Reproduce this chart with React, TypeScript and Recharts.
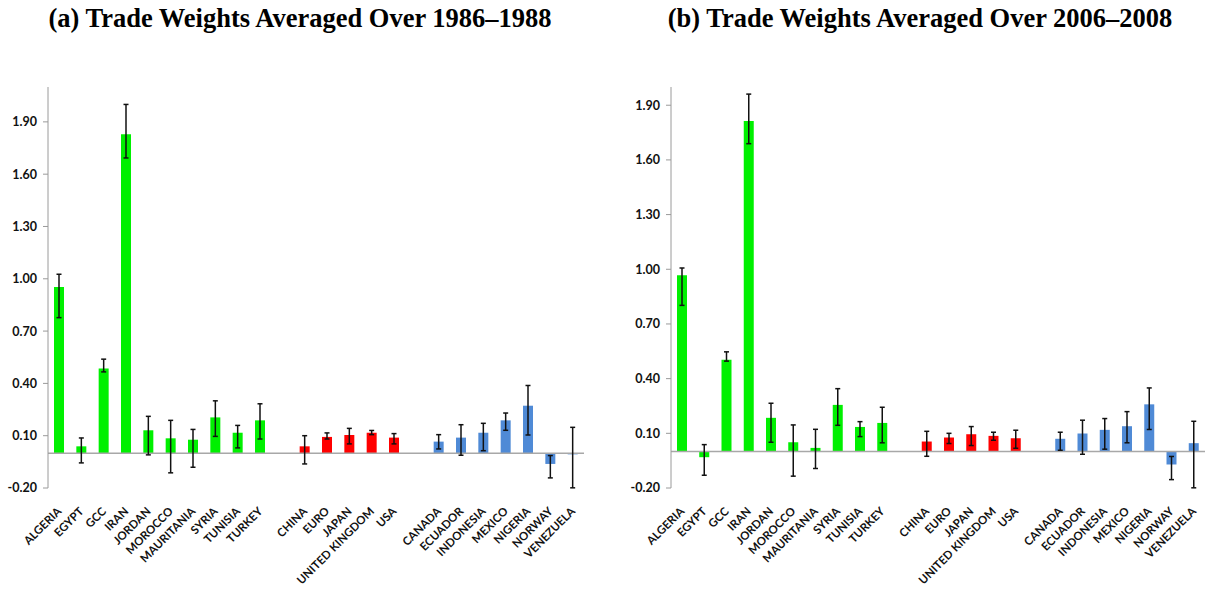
import React from "react";
import { BarChart, Bar, XAxis, YAxis, ErrorBar, Cell, ReferenceLine } from "recharts";

const menaCountries = ["ALGERIA", "EGYPT", "GCC", "IRAN", "JORDAN", "MOROCCO", "MAURITANIA", "SYRIA", "TUNISIA", "TURKEY"];
const majorPartners = ["CHINA", "EURO", "JAPAN", "UNITED KINGDOM", "USA"];
const oilExporters = ["CANADA", "ECUADOR", "INDONESIA", "MEXICO", "NIGERIA", "NORWAY", "VENEZUELA"];

const yTicks = [-0.2, 0.1, 0.4, 0.7, 1.0, 1.3, 1.6, 1.9];

// Panel (a) 1986–1988: mena, partners, oil exporters
const aMenaMean = [0.953, 0.039, 0.485, 1.829, 0.131, 0.085, 0.077, 0.205, 0.117, 0.188];
const aMenaLow = [0.777, -0.056, 0.466, 1.693, -0.01, -0.113, -0.081, 0.096, 0.03, 0.081];
const aMenaHigh = [1.026, 0.087, 0.539, 2.0, 0.211, 0.188, 0.136, 0.3, 0.159, 0.283];
const aPartMean = [0.039, 0.093, 0.104, 0.117, 0.089];
const aPartLow = [-0.062, 0.081, 0.053, 0.106, 0.053];
const aPartHigh = [0.1, 0.116, 0.142, 0.13, 0.112];
const aOilMean = [0.066, 0.089, 0.117, 0.188, 0.272, -0.062, -0.007];
const aOilLow = [0.024, -0.012, 0.014, 0.131, 0.104, -0.142, -0.199];
const aOilHigh = [0.106, 0.163, 0.171, 0.23, 0.388, -0.014, 0.148];

// Panel (b) 2006–2008
const bMenaMean = [0.967, -0.031, 0.504, 1.813, 0.185, 0.051, 0.02, 0.256, 0.135, 0.157];
const bMenaLow = [0.802, -0.13, 0.496, 1.689, 0.051, -0.135, -0.093, 0.144, 0.082, 0.048];
const bMenaHigh = [1.007, 0.038, 0.547, 1.961, 0.265, 0.146, 0.122, 0.345, 0.164, 0.243];
const bPartMean = [0.055, 0.077, 0.095, 0.086, 0.073];
const bPartLow = [-0.026, 0.044, 0.033, 0.062, 0.018];
const bPartHigh = [0.111, 0.1, 0.137, 0.106, 0.117];
const bOilMean = [0.07, 0.099, 0.119, 0.139, 0.259, -0.071, 0.046];
const bOilLow = [0.007, -0.015, 0.013, 0.048, 0.121, -0.154, -0.199];
const bOilHigh = [0.106, 0.172, 0.181, 0.219, 0.349, -0.027, 0.166];

const GREEN = "#00f000";
const RED = "#ff0000";
const BLUE = "#4f8ad6";

const LABEL_FONT = "Lato, 'Open Sans', sans-serif";

type Row = { name: string; value: number | null; err?: [number, number]; color: string };

function buildGroup(names: string[], mean: number[], low: number[], high: number[], color: string): Row[] {
  return names.map((n, i) => ({
    name: n,
    value: mean[i],
    err: [mean[i] - low[i], high[i] - mean[i]] as [number, number],
    color,
  }));
}

function buildData(
  mm: number[], ml: number[], mh: number[],
  pm: number[], pl: number[], ph: number[],
  om: number[], ol: number[], oh: number[]
): Row[] {
  return [
    ...buildGroup(menaCountries, mm, ml, mh, GREEN),
    { name: " ", value: null, color: GREEN },
    ...buildGroup(majorPartners, pm, pl, ph, RED),
    { name: "  ", value: null, color: RED },
    ...buildGroup(oilExporters, om, ol, oh, BLUE),
  ];
}

const dataA = buildData(aMenaMean, aMenaLow, aMenaHigh, aPartMean, aPartLow, aPartHigh, aOilMean, aOilLow, aOilHigh);
const dataB = buildData(bMenaMean, bMenaLow, bMenaHigh, bPartMean, bPartLow, bPartHigh, bOilMean, bOilLow, bOilHigh);

const XTick = (props: any) => {
  const { x, y, payload } = props;
  return (
    <g transform={`translate(${x + 3},${y + 16})`}>
      <text
        transform="rotate(-45)"
        textAnchor="end"
        fontFamily={LABEL_FONT}
        fontWeight={700}
        fontSize={11.5}
        fill="#111"
      >
        {payload.value}
      </text>
    </g>
  );
};

function Panel({ data, max, left }: { data: Row[]; max: number; left: number }) {
  return (
    <BarChart
      width={left === 0 ? 600 : 609}
      height={597}
      data={data}
      margin={{ top: 87, right: left === 0 ? 16 : 4, bottom: 9, left: left === 0 ? 8 : 31 }}
      barCategoryGap={0}
    >
      <XAxis
        dataKey="name"
        axisLine={false}
        tickLine={false}
        interval={0}
        height={100}
        tick={<XTick />}
      />
      <YAxis
        type="number"
        domain={[-0.2, max]}
        ticks={yTicks}
        width={40}
        allowDataOverflow
        stroke="#9a9a9a"
        tickSize={5}
        tickMargin={6}
        tickFormatter={(v: number) => v.toFixed(2)}
        tick={{ fill: "#111", fontSize: 12.5, fontWeight: 700, fontFamily: LABEL_FONT }}
      />
      <ReferenceLine y={0} stroke="#a8a8a8" strokeWidth={1.5} />
      <Bar dataKey="value" barSize={10} isAnimationActive={false}>
        {data.map((d, i) => (
          <Cell key={i} fill={d.color} />
        ))}
        <ErrorBar dataKey="err" width={2.5} strokeWidth={1.5} stroke="#111" direction="y" />
      </Bar>
    </BarChart>
  );
}

const titleStyle: React.CSSProperties = {
  position: "absolute",
  top: 3,
  fontFamily: "'Liberation Serif', 'Times New Roman', serif",
  fontWeight: 700,
  fontSize: 26.5,
  whiteSpace: "nowrap",
  transform: "translateX(-50%)",
  color: "#000",
};

export default function App() {
  return (
    <div style={{ position: "absolute", left: 0, top: 0, width: 1209, height: 597, background: "#fff", overflow: "hidden" }}>
      <div style={{ position: "absolute", left: 0, top: 0 }}>
        <Panel data={dataA} max={2.1} left={0} />
      </div>
      <div style={{ position: "absolute", left: 600, top: 0 }}>
        <Panel data={dataB} max={2.0} left={600} />
      </div>
      <div style={{ ...titleStyle, left: 300 }}>(a) Trade Weights Averaged Over 1986–1988</div>
      <div style={{ ...titleStyle, left: 920 }}>(b) Trade Weights Averaged Over 2006–2008</div>
    </div>
  );
}
